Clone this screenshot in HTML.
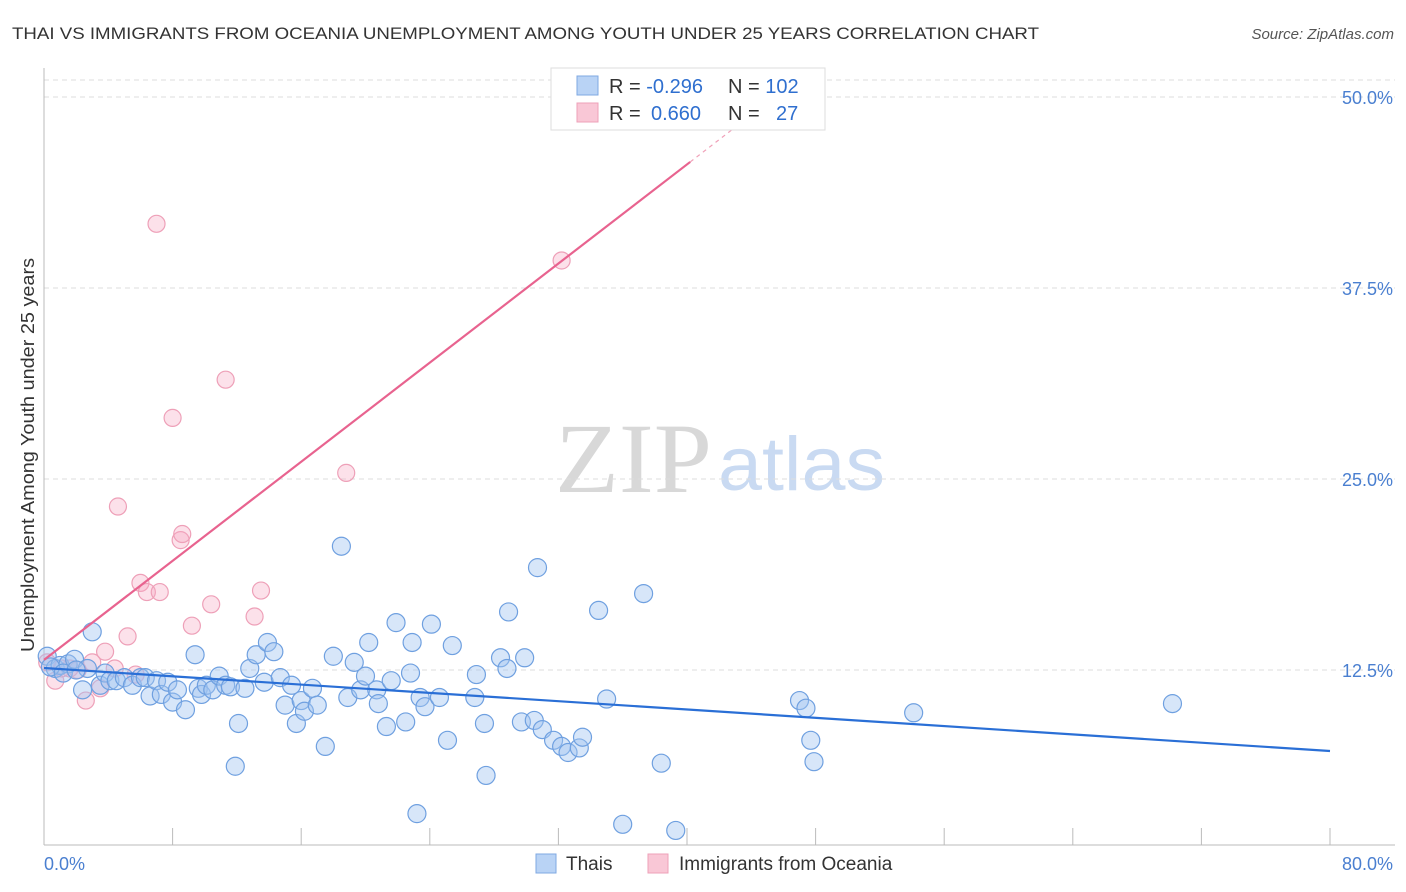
<!DOCTYPE html>
<html><head><meta charset="utf-8"><style>
body{margin:0;background:#fff;font-family:"Liberation Sans",sans-serif;}
svg{display:block}
</style></head><body>
<svg id="c" width="1406" height="892">
<text x="12" y="39" font-size="17" fill="#333" textLength="1027" lengthAdjust="spacingAndGlyphs">THAI VS IMMIGRANTS FROM OCEANIA UNEMPLOYMENT AMONG YOUTH UNDER 25 YEARS CORRELATION CHART</text>
<text x="1394" y="39" font-size="15" fill="#555" font-style="italic" text-anchor="end">Source: ZipAtlas.com</text>
<text x="555" y="492" font-size="100" fill="#d8d8d8" font-family="Liberation Serif,serif" textLength="157" lengthAdjust="spacingAndGlyphs">ZIP</text>
<text x="718" y="490" font-size="76" fill="#c9daf2" textLength="167" lengthAdjust="spacingAndGlyphs">atlas</text>
<text transform="translate(34,455) rotate(-90)" font-size="18" fill="#333" text-anchor="middle" textLength="394" lengthAdjust="spacingAndGlyphs">Unemployment Among Youth under 25 years</text>
<g id="grid"></g><g id="pts"></g><g id="lines"></g>
<g>
<rect x="551" y="68" width="274" height="62" fill="#fff" stroke="#ddd"/>
<rect x="577" y="76" width="21" height="19" fill="#b9d3f5" stroke="#7fa8e2"/>
<rect x="577" y="103" width="21" height="19" fill="#f9c7d6" stroke="#eea0b8"/>
<text x="609" y="93" font-size="20" fill="#333">R = <tspan fill="#2f6fcf">-0.296</tspan><tspan x="728">N = </tspan><tspan fill="#2f6fcf">102</tspan></text>
<text x="609" y="120" font-size="20" fill="#333">R = <tspan fill="#2f6fcf" x="651">0.660</tspan><tspan x="728">N = </tspan><tspan fill="#2f6fcf" x="776">27</tspan></text>
</g>
<text x="44" y="870" font-size="18" fill="#4a7fd0">0.0%</text>
<text x="1393" y="870" font-size="18" fill="#4a7fd0" text-anchor="end">80.0%</text>
<g>
<rect x="536" y="854" width="20" height="19" fill="#b9d3f5" stroke="#7fa8e2"/>
<text x="566" y="870" font-size="19" fill="#333">Thais</text>
<rect x="648" y="854" width="20" height="19" fill="#f9c7d6" stroke="#eea0b8"/>
<text x="679" y="870" font-size="19" fill="#333">Immigrants from Oceania</text>
</g>
</svg>
<script>
const yTicks=[12.5,25,37.5,50];
const yTickLabels=["12.5%","25.0%","37.5%","50.0%"];
const xTicks=[8,16,24,32,40,48,56,64,72,80];
const thaiX=[0.2,0.7,1.0,1.5,1.9,2.4,2.7,3.0,3.5,3.8,4.1,4.5,5.0,5.5,6.0,6.3,6.6,7.0,7.3,7.7,8.0,8.3,8.8,9.4,9.6,9.8,10.1,10.5,10.9,11.3,11.6,11.9,12.1,12.5,12.8,13.2,13.7,13.9,14.3,14.7,15.0,15.4,15.7,16.0,16.2,16.7,17.0,17.5,18.0,18.5,18.9,19.3,19.7,20.0,20.2,20.7,20.8,21.3,21.6,21.9,22.5,22.8,22.9,23.4,23.7,24.1,24.6,25.1,25.4,26.8,26.9,27.4,27.5,28.4,28.8,28.9,29.7,29.9,30.5,30.7,31.0,31.7,32.2,32.6,33.3,33.5,34.5,35.0,36.0,37.3,38.4,39.3,47.0,47.4,47.7,47.9,54.1,70.2,23.2,0.4,1.2,2.0];
const thaiY=[13.4,12.6,12.8,12.9,13.2,11.2,12.6,15.0,11.5,12.3,11.8,11.8,12.0,11.5,12.0,12.0,10.8,11.8,10.9,11.7,10.4,11.2,9.9,13.5,11.3,10.9,11.5,11.2,12.1,11.5,11.4,6.2,9.0,11.3,12.6,13.5,11.7,14.3,13.7,12.0,10.2,11.5,9.0,10.5,9.8,11.3,10.2,7.5,13.4,20.6,10.7,13.0,11.2,12.1,14.3,11.2,10.3,8.8,11.8,15.6,9.1,12.3,14.3,10.7,10.1,15.5,10.7,7.9,14.1,10.7,12.2,9.0,5.6,13.3,12.6,16.3,9.1,13.3,9.2,19.2,8.6,7.9,7.5,7.1,7.4,8.1,16.4,10.6,2.4,17.5,6.4,2.0,10.5,10.0,7.9,6.5,9.7,10.3,3.1,12.7,12.3,12.5];
const ocX=[0.2,0.7,1.1,1.6,2.1,2.6,3.0,3.5,3.8,4.4,5.2,5.7,6.0,6.4,7.0,7.2,8.0,8.5,8.6,9.2,10.4,11.3,13.1,13.5,18.8,32.2,4.6];
const ocY=[13.0,11.8,12.6,12.6,12.5,10.5,13.0,11.3,13.7,12.6,14.7,12.2,18.2,17.6,41.7,17.6,29.0,21.0,21.4,15.4,16.8,31.5,16.0,17.7,25.4,39.3,23.2];
const thaiTrend=[12.63,7.2];
const ocTrend=[13.16,45.75];
const ocTrendEnd=40.2, ocDashEnd=44.9;
const X=v=>44+v/80*1286, Y=v=>861-v/12.5*191;
const NS="http://www.w3.org/2000/svg";
function mk(t,a,p){const e=document.createElementNS(NS,t);for(const k in a)e.setAttribute(k,a[k]);p.appendChild(e);return e;}
const grid=document.getElementById('grid');
mk('line',{x1:44,y1:80,x2:1395,y2:80,stroke:'#ddd','stroke-dasharray':'5,4'},grid);
yTicks.forEach((t,i)=>{
 const l=mk('line',{x1:44,y1:Y(t),x2:1395,y2:Y(t),stroke:'#ddd','stroke-dasharray':'5,4'},grid);
 
 
 const tx=mk('text',{x:1393,y:Y(t)+7,'font-size':18,fill:'#4a7fd0','text-anchor':'end'},grid);
 tx.textContent=yTickLabels[i];
 
 
});
mk('line',{x1:44,y1:68,x2:44,y2:845,stroke:'#bbb'},grid);
mk('line',{x1:44,y1:845,x2:1395,y2:845,stroke:'#bbb'},grid);
xTicks.forEach(t=>{
 const l=mk('line',{x1:X(t),y1:828,x2:X(t),y2:845,stroke:'#bbb'},grid);
 
 
});
const pts=document.getElementById('pts');
ocX.forEach((x,i)=>{
 const c=mk('circle',{cx:X(x),cy:Y(ocY[i]),r:8.5,fill:'rgba(246,170,195,0.35)',stroke:'#eea0b8','stroke-width':1.2},pts);
 
 
});
thaiX.forEach((x,i)=>{
 const c=mk('circle',{cx:X(x),cy:Y(thaiY[i]),r:9,fill:'rgba(160,196,240,0.42)',stroke:'#6fa0e0','stroke-width':1.2},pts);
 
 
});
const lines=document.getElementById('lines');
const bl=mk('line',{x1:X(0),y1:Y(thaiTrend[0]),x2:X(80),y2:Y(thaiTrend[1]),stroke:'#2a6fd6','stroke-width':2.2},lines);


const ps=(ocTrend[1]-ocTrend[0])/ocTrendEnd;
const pl=mk('line',{x1:X(0),y1:Y(ocTrend[0]),x2:X(ocTrendEnd),y2:Y(ocTrend[1]),stroke:'#e8638f','stroke-width':2.2},lines);


const pd=mk('line',{x1:X(ocTrendEnd),y1:Y(ocTrend[1]),x2:X(ocDashEnd),y2:Y(ocTrend[0]+ps*ocDashEnd),stroke:'#f0a0b8','stroke-width':1.2,'stroke-dasharray':'4,4'},lines);


</script>
</body></html>
